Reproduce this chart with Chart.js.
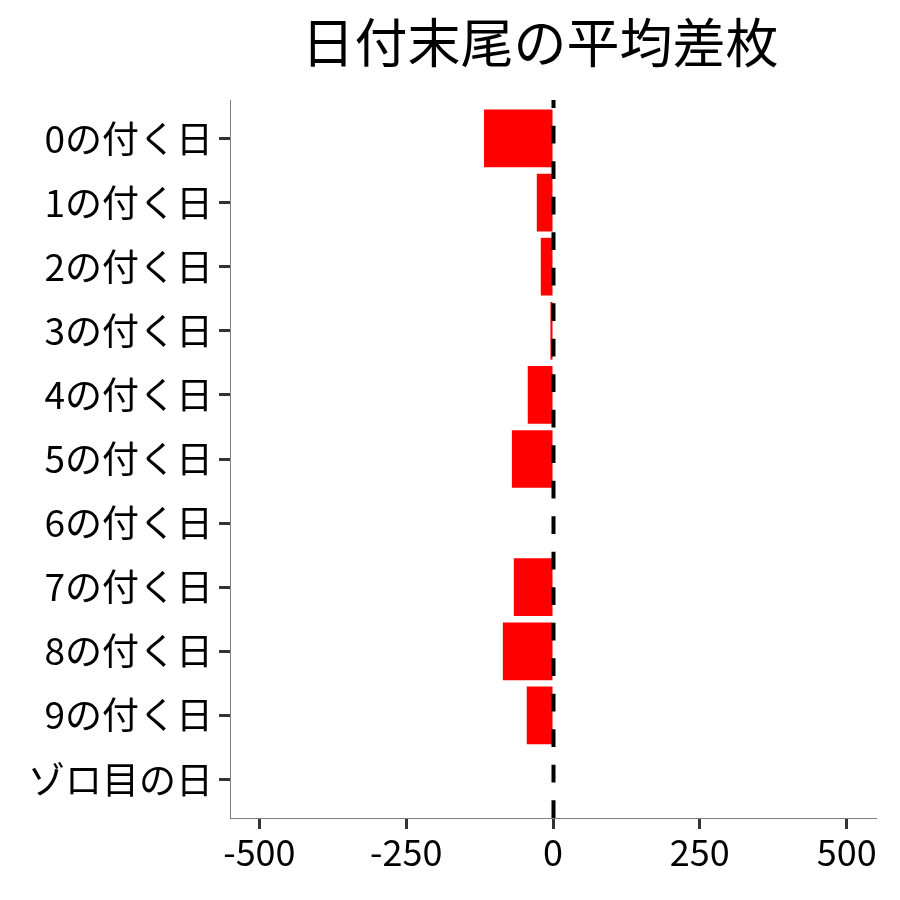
<!DOCTYPE html>
<html>
<head>
<meta charset="utf-8">
<script src="https://cdn.jsdelivr.net/npm/chart.js@4.4.1/dist/chart.umd.min.js"></script>
<style>
html,body{margin:0;padding:0;background:#fff;}
#wrap{width:900px;height:900px;}
</style>
</head>
<body>
<div id="wrap"><canvas id="c" width="900" height="900"></canvas></div>
<script>
const titleText = "日付末尾の平均差枚";
const categories = ["0の付く日","1の付く日","2の付く日","3の付く日","4の付く日","5の付く日","6の付く日","7の付く日","8の付く日","9の付く日","ゾロ目の日"];
const avgDiff = [-117.5, -27.6, -20.8, -4.4, -43, -70, 0, -66.7, -85.4, -44.7, 0];
const xTickValues = [-500, -250, 0, 250, 500];
const xMin = -550, xMax = 550;
const refLineValue = 0;

const FONT = "'Noto Sans CJK JP', 'Noto Sans', sans-serif";

const titlePlugin = {
  id: 'customTitle',
  afterDraw(chart) {
    const ctx = chart.ctx;
    ctx.save();
    ctx.fillStyle = '#000';
    ctx.font = "53px " + FONT;
    ctx.textAlign = 'center';
    ctx.textBaseline = 'alphabetic';
    ctx.fillText(titleText, 540, 63);
    ctx.restore();
  }
};

const refLinePlugin = {
  id: 'refLine',
  afterDatasetsDraw(chart) {
    const ctx = chart.ctx;
    const x = chart.scales.x.getPixelForValue(refLineValue) + 0.5;
    const a = chart.chartArea;
    ctx.save();
    ctx.beginPath();
    ctx.rect(a.left, a.top, a.right - a.left, a.bottom - a.top);
    ctx.clip();
    ctx.strokeStyle = '#000';
    ctx.lineWidth = 4;
    ctx.setLineDash([17.7, 17.8]);
    ctx.beginPath();
    ctx.moveTo(x, a.bottom);
    ctx.lineTo(x, a.top);
    ctx.stroke();
    ctx.restore();
  }
};

const bgPlugin = {
  id: 'bg',
  beforeDraw(chart) {
    const ctx = chart.ctx;
    ctx.save();
    ctx.fillStyle = '#fff';
    ctx.fillRect(0, 0, chart.width, chart.height);
    ctx.restore();
  }
};

new Chart(document.getElementById('c'), {
  type: 'bar',
  data: {
    labels: categories,
    datasets: [{
      data: avgDiff,
      backgroundColor: '#ff0000',
      borderWidth: 0,
      barPercentage: 0.9,
      categoryPercentage: 1.0
    }]
  },
  options: {
    indexAxis: 'y',
    responsive: false,
    animation: false,
    devicePixelRatio: 1,
    layout: { padding: { top: 100, right: 24, left: 0, bottom: 0 } },
    plugins: {
      legend: { display: false },
      title: { display: false },
      tooltip: { enabled: false }
    },
    scales: {
      x: {
        type: 'linear',
        min: xMin,
        max: xMax,
        afterBuildTicks(scale) {
          scale.ticks = xTickValues.map(v => ({ value: v }));
        },
        afterFit(scale) { scale.height = 82; },
        grid: {
          drawOnChartArea: false,
          drawTicks: true,
          tickLength: 11,
          tickWidth: 3,
          tickColor: '#333333'
        },
        border: { display: true, color: '#7f7f7f', width: 1 },
        ticks: {
          color: '#000',
          font: { family: FONT, size: 36 },
          padding: 2,
          maxRotation: 0,
          autoSkip: false
        }
      },
      y: {
        type: 'category',
        offset: true,
        afterBuildTicks(scale) {
          scale._startValue = -0.6;
          scale._valueRange = categories.length - 1 + 1.2;
        },
        afterFit(scale) { scale.width = 230; },
        grid: {
          drawOnChartArea: false,
          drawTicks: true,
          tickLength: 11,
          tickWidth: 3,
          tickColor: '#333333',
          offset: false
        },
        border: { display: true, color: '#7f7f7f', width: 1 },
        ticks: {
          color: '#000',
          font: { family: FONT, size: 37 },
          padding: 6,
          autoSkip: false
        }
      }
    }
  },
  plugins: [bgPlugin, refLinePlugin, titlePlugin]
});
</script>
</body>
</html>
